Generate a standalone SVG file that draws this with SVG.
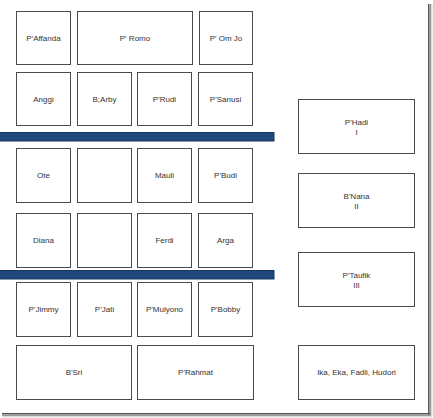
<svg xmlns="http://www.w3.org/2000/svg" width="433" height="418" viewBox="0 0 433 418">
<style>
.b{fill:#fff;stroke:#4a4a4a;stroke-width:1}
.t{font-family:"Liberation Sans",Arial,sans-serif;font-size:8px;fill:#333;text-anchor:middle}
.bar{fill:#1f497d;stroke:#17375e;stroke-width:1}
</style>
<rect width="433" height="418" fill="#fff"/>
<g id="frame">
<rect x="428" y="4" width="1.5" height="412" fill="#555"/>
<rect x="429.5" y="4" width="1.5" height="412" fill="#999"/>
<rect x="431" y="4" width="1.5" height="412" fill="#ddd"/>
<rect x="2" y="413" width="428" height="1.5" fill="#555"/>
<rect x="2" y="414.5" width="429" height="1.5" fill="#999"/>
<rect x="2" y="416" width="430" height="1.5" fill="#ddd"/>
</g>
<g id="bars">
<rect class="bar" x="-1" y="132.5" width="275" height="8.5"/>
<rect class="bar" x="-1" y="270.5" width="275" height="8.5"/>
</g>
<g id="n1"><rect class="b" x="16.5" y="11.5" width="54" height="53"/><text class="t" x="43.5" y="41">P'Affanda</text></g>
<g id="n2"><rect class="b" x="77.5" y="11.5" width="115" height="53"/><text class="t" x="135" y="41">P' Romo</text></g>
<g id="n3"><rect class="b" x="199.5" y="11.5" width="53" height="53"/><text class="t" x="226" y="41">P' Om Jo</text></g>
<g id="n4"><rect class="b" x="16.5" y="72.5" width="54" height="53"/><text class="t" x="43.5" y="102">Anggi</text></g>
<g id="n5"><rect class="b" x="77.5" y="72.5" width="54" height="53"/><text class="t" x="104.5" y="102">B;Arby</text></g>
<g id="n6"><rect class="b" x="137.5" y="72.5" width="54" height="53"/><text class="t" x="164.5" y="102">P'Rudi</text></g>
<g id="n7"><rect class="b" x="198.5" y="72.5" width="54" height="53"/><text class="t" x="225.5" y="102">P'Sanusi</text></g>
<g id="n8"><rect class="b" x="16.5" y="148.5" width="54" height="54"/><text class="t" x="43.5" y="178">Ote</text></g>
<g id="n9"><rect class="b" x="77.5" y="148.5" width="54" height="54"/></g>
<g id="n10"><rect class="b" x="137.5" y="148.5" width="54" height="54"/><text class="t" x="164.5" y="178">Mauli</text></g>
<g id="n11"><rect class="b" x="198.5" y="148.5" width="54" height="54"/><text class="t" x="225.5" y="178">P'Budi</text></g>
<g id="n12"><rect class="b" x="16.5" y="213.5" width="54" height="54"/><text class="t" x="43.5" y="243">Diana</text></g>
<g id="n13"><rect class="b" x="77.5" y="213.5" width="54" height="54"/></g>
<g id="n14"><rect class="b" x="137.5" y="213.5" width="54" height="54"/><text class="t" x="164.5" y="243">Ferdi</text></g>
<g id="n15"><rect class="b" x="198.5" y="213.5" width="54" height="54"/><text class="t" x="225.5" y="243">Arga</text></g>
<g id="n16"><rect class="b" x="16.5" y="282.5" width="54" height="54"/><text class="t" x="43.5" y="312">P'Jimmy</text></g>
<g id="n17"><rect class="b" x="77.5" y="282.5" width="54" height="54"/><text class="t" x="104.5" y="312">P'Jati</text></g>
<g id="n18"><rect class="b" x="137.5" y="282.5" width="54" height="54"/><text class="t" x="164.5" y="312">P'Mulyono</text></g>
<g id="n19"><rect class="b" x="198.5" y="282.5" width="54" height="54"/><text class="t" x="225.5" y="312">P'Bobby</text></g>
<g id="n20"><rect class="b" x="16.5" y="345.5" width="115" height="54"/><text class="t" x="74" y="375">B'Sri</text></g>
<g id="n21"><rect class="b" x="137.5" y="345.5" width="116" height="54"/><text class="t" x="195.5" y="375">P'Rahmat</text></g>
<g id="n22"><rect class="b" x="298.5" y="99.5" width="116" height="54"/><text class="t" x="356.5" y="125">P'Hadi</text><text class="t" x="356.5" y="135">I</text></g>
<g id="n23"><rect class="b" x="298.5" y="173.5" width="116" height="54"/><text class="t" x="356.5" y="199">B'Nana</text><text class="t" x="356.5" y="209">II</text></g>
<g id="n24"><rect class="b" x="298.5" y="252.5" width="116" height="54"/><text class="t" x="356.5" y="278">P'Taufik</text><text class="t" x="356.5" y="288">III</text></g>
<g id="n25"><rect class="b" x="298.5" y="345.5" width="116" height="54"/><text class="t" x="356.5" y="375">Ika, Eka, Fadli, Hudori</text></g>
<g id="connectors"></g>
</svg>
